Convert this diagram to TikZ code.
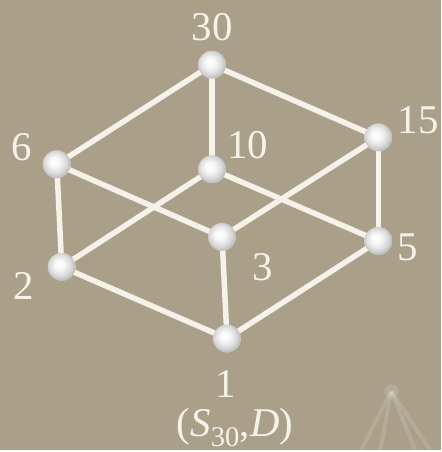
\documentclass[tikz,border=0pt]{standalone}
\usepackage{fontspec}
\setmainfont{Liberation Serif}
\usetikzlibrary{positioning}
\definecolor{khaki}{RGB}{170,160,138}
\definecolor{cream}{RGB}{246,242,234}
\pgfdeclareradialshading{pearl}{\pgfpoint{-5bp}{5bp}}{color(0bp)=(white); color(9bp)=(white!97!black); color(20bp)=(white!85!black); color(25bp)=(white!76!black); color(50bp)=(white!76!black)}

\begin{document}
\begin{tikzpicture}[x=1pt,y=-1pt,
  elem/.style={circle, inner sep=0pt, minimum size=28pt, shading=pearl},
  rel/.style={cream, line width=5.5pt},
  num/.style={text=cream, font=\fontsize{41}{46}\selectfont, inner sep=0pt}]
\fill[khaki] (0,0) rectangle (443,452);
% faint mark in the corner
\coordinate (tip) at (393,393);
\foreach \x in {363,382,417,432}
  \draw[white, opacity=0.12, line width=4pt] (tip) -- (\x,452);
\fill[white, opacity=0.12] (tip) circle (7pt);
% elements of the lattice
\node[elem] (n30) at (213,65) {};
\node[elem] (n6)  at (57,165) {};
\node[elem] (n10) at (213,170) {};
\node[elem] (n15) at (380,138) {};
\node[elem] (n3)  at (223,238) {};
\node[elem] (n5)  at (380,242) {};
\node[elem] (n2)  at (62,268) {};
\node[elem] (n1)  at (228,340) {};
% divisibility
\foreach \a/\b in {n30/n6,n30/n10,n30/n15,n6/n2,n6/n3,n10/n2,n10/n5,n15/n3,n15/n5,n2/n1,n3/n1,n5/n1}
  \draw[rel] (\a.center) -- (\b.center);
\foreach \n in {n30,n6,n10,n15,n3,n5,n2,n1}
  \node[elem] at (\n) {};
% labels
\node[num] (l30) at (213,27) {30};
\node[num] (l6)  at (22,148) {6};
\node[num] (l10) at (249,146) {10};
\node[num] (l15) at (420,121) {15};
\node[num] (l3)  at (264,268) {3};
\node[num] (l5)  at (409,248) {5};
\node[num] (l2)  at (24,287) {2};
\node[num] (l1)  at (227,386) {1};
\node[num, anchor=base] (title) at (236,438) {(\textit{S}\textsubscript{30},\textit{D})};
\end{tikzpicture}
\end{document}
